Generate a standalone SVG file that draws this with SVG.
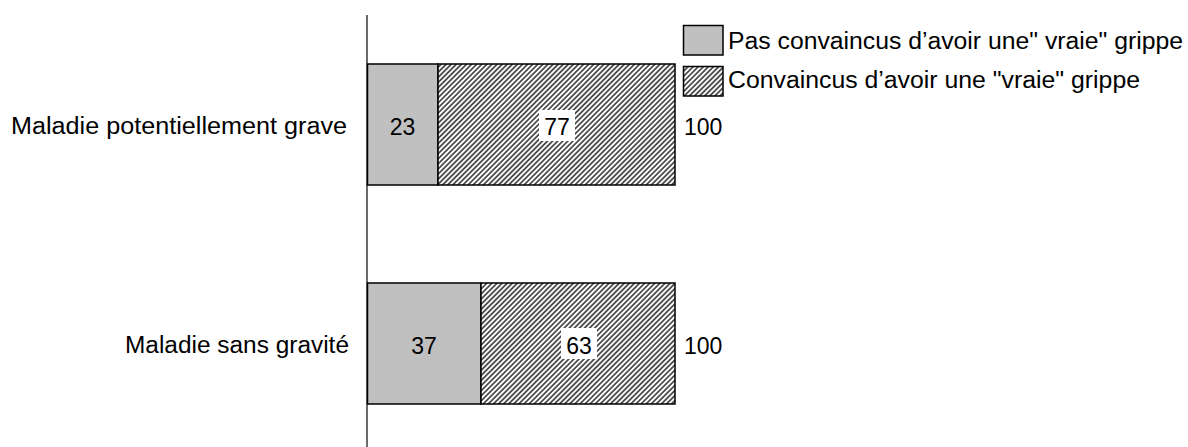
<svg xmlns="http://www.w3.org/2000/svg" width="1188" height="447" viewBox="0 0 1188 447">
<defs>
<pattern id="hatch" width="3.6" height="3.6" patternUnits="userSpaceOnUse" patternTransform="rotate(45)">
<rect width="3.6" height="3.6" fill="#ffffff"/>
<line x1="0.9" y1="0" x2="0.9" y2="3.6" stroke="#2a2a2a" stroke-width="1.5"/>
</pattern>
</defs>
<style>
text{font-family:"Liberation Sans",Arial,sans-serif;font-size:23px;fill:#000}
.gray{fill:#c0c0c0;stroke:#000;stroke-width:1.5}
.hat{fill:url(#hatch);stroke:#000;stroke-width:1.5}
.lbl{fill:#fff}
.c{text-anchor:middle}
</style>
<rect width="1188" height="447" fill="#fff"/>
<g id="axis">
<line x1="367" y1="15" x2="367" y2="447" stroke="#444" stroke-width="1.6"/>
</g>
<g id="legend">
<rect class="gray" x="683.5" y="25.5" width="39.5" height="29.5"/>
<text x="728" y="49" textLength="455" lengthAdjust="spacingAndGlyphs">Pas convaincus d’avoir une" vraie" grippe</text>
<rect class="hat" x="683.5" y="66.5" width="39.5" height="29.5"/>
<text x="728" y="88" textLength="412" lengthAdjust="spacingAndGlyphs">Convaincus d’avoir une "vraie" grippe</text>
</g>
<g id="bar1">
<text x="11" y="134" textLength="336" lengthAdjust="spacingAndGlyphs">Maladie potentiellement grave</text>
<rect class="gray" x="367.5" y="64" width="70.5" height="121"/>
<rect class="hat" x="438" y="64" width="237" height="121"/>
<text class="c" x="402.5" y="135">23</text>
<rect class="lbl" x="539" y="110" width="36" height="31"/>
<text class="c" x="557" y="135">77</text>
<text x="684" y="135">100</text>
</g>
<g id="bar2">
<text x="125" y="353" textLength="224" lengthAdjust="spacingAndGlyphs">Maladie sans gravité</text>
<rect class="gray" x="367.5" y="283" width="113.5" height="121"/>
<rect class="hat" x="481" y="283" width="194" height="121"/>
<text class="c" x="424" y="354">37</text>
<rect class="lbl" x="561" y="328" width="36" height="31"/>
<text class="c" x="579" y="354">63</text>
<text x="684" y="354">100</text>
</g>
</svg>
